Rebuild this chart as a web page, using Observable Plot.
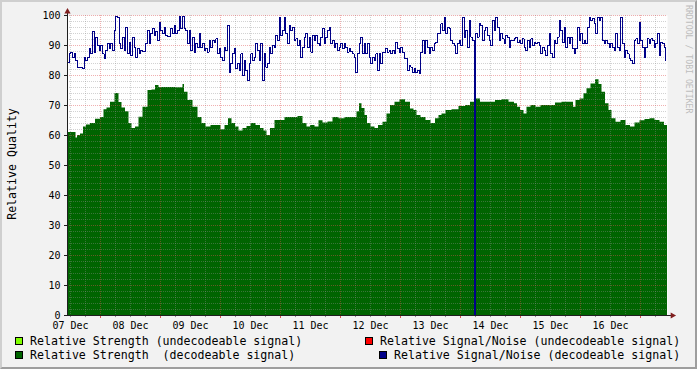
<!DOCTYPE html>
<html><head><meta charset="utf-8">
<script src="https://cdn.jsdelivr.net/npm/d3@7"></script>
<script src="https://cdn.jsdelivr.net/npm/@observablehq/plot@0.6"></script>
<style>
body{margin:0;background:#fff}
#chart{position:relative;width:697px;height:369px;background:#F2F2F2;overflow:hidden;font-family:"DejaVu Sans Mono",monospace;color:#000}
#chart svg{position:absolute;left:0;top:0}
#shade{position:absolute;left:0;top:0;width:697px;height:369px;box-sizing:border-box;border-top:2px solid #CFCFCF;border-left:2px solid #CFCFCF;border-right:2px solid #9E9E9E;border-bottom:2px solid #9E9E9E;pointer-events:none}
.lg{position:absolute;font-size:11.6px;line-height:13px;white-space:pre}
.sw{position:absolute;width:6px;height:6px;border:1px solid #000}
#ytitle{position:absolute;left:12px;top:164px;transform:translate(-50%,-50%) rotate(-90deg);font-size:11.6px;white-space:nowrap}
#wm{position:absolute;left:684px;top:5px;writing-mode:vertical-rl;font-size:8.2px;color:#bdbdbd;white-space:nowrap}
</style>
</head><body>
<div id="chart"></div>
<script>
// ---- data ----
const xLabels = ["07 Dec","08 Dec","09 Dec","10 Dec","11 Dec","12 Dec","13 Dec","14 Dec","15 Dec","16 Dec"];
const yTicks = [0,10,20,30,40,50,60,70,80,90,100];

// Relative Strength (decodeable), hours since start / value
const strengthHours = [0,3.2,3.6,4.4,6,6.8,8.4,10,12.4,14,15.2,16.4,18,20,21.2,22.4,24,25.2,26.4,28,29.2,31.2,33.2,34.4,36,37.2,41.2,46,46.4,47.2,49.2,51.2,53.2,54.4,56.4,58.4,60.4,62.4,63.6,65.2,66.4,68,69.2,71.2,72.4,74.4,76.4,78,79.2,80.4,82,84,86,88,91.2,93.2,95.2,96.4,98,100,101.2,103.2,105.2,107.2,110,112,115.2,116.4,117.2,118.4,119.6,120.4,122.4,123.6,125.2,127.2,128.4,130,132,134,136.4,138,139.2,140.4,142.4,144.4,146.4,148,149.2,150.4,152.4,155.2,158,160.4,162,164.4,166,170,172.4,175.2,178,179.6,180.4,182,183.2,184.4,186.4,188.4,190.4,194,196.4,199.2,202,202.8,204,206,207.2,208.4,210.4,212,213.2,214.4,216,217.2,218.4,220.4,222.4,224.4,226,228,230,232,234,236,238,239.6,240];
const strengthValues = [61,61,59.2,60,60.5,62.8,63.5,64,65.4,66,68.6,69.2,71.1,74,71,69.2,67.9,64,62.3,62.8,66.1,69.4,75,75.2,76.7,76,76,75.9,77,74.4,71.7,69.4,66,64,62.8,63.3,63.3,61.9,63.3,65.6,64,62.8,61.5,62.3,63,64,63.3,62.3,61.5,60,62.3,65,65,66,66,66.3,64,62.8,63.3,62.8,64.9,64.2,64.5,66,65.6,66,66,67.9,70.6,69,66.7,64,62.8,62.3,63.3,64.4,67.2,70,71.1,71.9,71.1,68.8,68.3,66.7,66,65,64,65.6,66.7,67.2,68.3,68.6,69.7,70,71.1,72.2,71.1,71.1,71.7,71.9,71.1,70.6,69.4,68.3,67.2,69.4,70,69.4,70,70,70.8,71.1,71.1,69.4,71.7,72.2,73.9,75.6,77.2,78.6,77,74.4,70.6,68.3,65.6,64.4,65,63.3,62.8,64.2,64.9,65.3,65.6,65,64.4,63.3,63.3];

// Relative Signal/Noise (decodeable), one sample every 40 minutes
const snrStepHours = 2/3;
const snrValues = [
84.4,87.2,87.8,86.1,87.2,85,82.8,82.8,82.6,82.2,86.1,85,86.1,88.9,87.2,94.8,87.8,92.8,90,88.3,90,87.2,85.6,88.3,90.6,88.9,90.6,88.3,95,99.7,99.4,90.6,88.9,92.8,88.3,96.1,87.2,91.1,86.7,92.8,89.4,86.1,88.9,87.2,88.3,88.1,88.1,90.6,95,90.6,93.9,95.6,93.3,94.8,91.7,97.8,95,93.9,96.1,93.3,93,93,95.6,93.9,96.7,93.9,95,99.7,95.6,99.7,95.6,95,90.6,95,88.3,92.8,87.8,90.6,89.4,93.9,89.4,90.6,88.3,88.9,87.8,91.7,89.4,91.7,91.1,
92.2,87.2,88.9,86.1,85,89.4,88.3,96.7,81.1,83.9,87.2,88.9,82.2,83.9,81.7,87.2,80,85,81.7,78.3,83.9,87.2,85,86.1,90.6,88.3,85,90.6,78.3,87.2,82.8,83.9,89.4,87.2,90,89.4,93.3,91.7,99.4,93.3,95,99.4,93.9,90.6,96.7,95,96.1,91.7,92.2,90,91.7,86.1,89.4,92.8,93.9,89.4,92.8,87.8,93.3,91.7,93.3,90.6,90,92.8,95.6,90.6,92.8,95,96.1,90.6,91.7,89.4,90.6,88.3,89.5,90.6,88.9,90.6,89.4,87.8,88.9,88,87.2,86.1,81.1,87.2,90.6,92.8,87.2,90.6,
87.2,90.6,86.1,83.9,86.1,85,87.2,81.7,87.2,83.9,87.8,87.8,88.9,87.8,88.3,87.2,88.3,87.2,91.1,88.9,87.8,89.4,87.8,85.6,85.6,81.7,83.3,82.8,81.1,82.2,81.1,81.7,80.6,87.8,91.7,87.2,91.7,89.4,87.2,89.4,88.3,90.6,91.1,93.9,93.9,97.2,95,99.4,93.9,96.1,95.6,91.7,90.6,90,87.2,90.6,91.7,90,99.4,92.8,95,89.4,98.3,92.8,91.7,0,93.9,92.8,97.2,96.7,91.7,95,96.1,93.3,91.7,90,98.3,95,99.4,96.1,91.7,93.9,92.2,90.6,93.3,92.8,89.4,91.7,91.7,92.2,
92.8,91.1,91.7,90.6,92.2,89.4,88.3,91.7,89.4,92.2,90,91.1,90.6,91.1,90,87.2,89.4,88.3,86.7,90,93.9,87.2,86.1,91.7,90.6,92.8,98.3,95,91.1,96.1,89.4,92.8,90.6,92.8,88.9,87.2,88.9,96.1,91.7,93.9,90.6,91.7,90.6,96.1,99.4,98.3,98.9,97.2,93.9,99.4,98.3,99.4,91.7,90.6,91.7,90.6,89.4,90.6,89.4,88.3,93.9,89.4,88.3,99.4,90.6,86.1,88.3,87.2,85.6,85,83.9,91.7,92.2,90.6,97.8,91.7,89.4,86.1,89.4,92.2,90.6,92.2,91.7,89.4,90.6,93.9,86.7,91.1,90.6,89.4,85
];

// ---- derived tables ----
const strength = strengthHours.map((h, i) => ({h, v: strengthValues[i]}));
const snr = snrValues.map((v, i) => ({h: i * snrStepHours, v}));
const hoursTotal = xLabels.length * 24;
const labelHours = xLabels.map((_, i) => 1.2 + i * 24);
const majorHours = xLabels.map((_, i) => 13.2 + i * 24);
const minorHours = d3.range(1.2, hoursTotal, 6).filter(h => !majorHours.some(m => Math.abs(m - h) < 1e-6));
const yMajor = yTicks.filter(v => v > 0);
const yMinor = d3.range(2, 100, 2).filter(v => v % 10 !== 0);

const gridMinor = {stroke: "#8f8f8f", strokeOpacity: 0.4, strokeDasharray: "1,1"};
const gridMajor = {stroke: "#de4f4f", strokeOpacity: 0.45, strokeDasharray: "1,1"};

const plot = Plot.plot({
  width: 697, height: 334,
  marginLeft: 67, marginRight: 30, marginTop: 15, marginBottom: 19,
  x: {domain: [0, hoursTotal]},
  y: {domain: [0, 100]},
  style: {background: "transparent", fontFamily: "DejaVu Sans Mono", fontSize: "10px", color: "#000", overflow: "visible"},
  marks: [
    Plot.frame({fill: "#fff", stroke: null}),
    Plot.areaY(strength, {x: "h", y: "v", fill: "#006400", curve: "step"}),
    Plot.ruleY(yMinor, gridMinor),
    Plot.ruleX(minorHours, gridMinor),
    Plot.ruleY(yMajor, gridMajor),
    Plot.ruleX(majorHours, gridMajor),
    Plot.line(snr, {x: "h", y: "v", stroke: "#000088", strokeWidth: 1, curve: "step-after", shapeRendering: "crispEdges"}),
    // tick marks below the x axis
    Plot.ruleX(minorHours, {y1: 0, y2: -0.7, stroke: "#8f8f8f"}),
    Plot.ruleX(majorHours, {y1: 0, y2: -1, stroke: "#de4f4f"}),
    // axis lines
    Plot.ruleY([0], {x1: 0, x2: hoursTotal + 2, stroke: "#1f1f1f"}),
    Plot.ruleX([0], {y1: 0, y2: 101.5, stroke: "#1f1f1f"}),
    Plot.dot([0], {x: 0, y: 101.3, symbol: "triangle", r: 2.3, fill: "#801f1f", stroke: null}),
    Plot.dot([0], {x: hoursTotal + 2, y: 0, symbol: "triangle", rotate: 90, r: 2.3, fill: "#801f1f", stroke: null}),
    Plot.axisY({ticks: yTicks, tickSize: 3, tickPadding: 4, label: null, fontSize: 10, stroke: "#1f1f1f"}),
    Plot.axisX({ticks: labelHours, tickSize: 0, tickPadding: 6, label: null, fontSize: 10,
      tickFormat: d => xLabels[labelHours.findIndex(h => Math.abs(h - d) < 1e-6)]})
  ]
});

const chart = document.getElementById("chart");
chart.appendChild(plot);

const legendItems = [
  {text: "Relative Strength (undecodeable signal)", color: "#80FF00", sx: 15, tx: 30, row: 0},
  {text: "Relative Strength  (decodeable signal)", color: "#006400", sx: 15, tx: 30, row: 1},
  {text: "Relative Signal/Noise (undecodeable signal)", color: "#FF0000", sx: 365, tx: 380, row: 0},
  {text: "Relative Signal/Noise (decodeable signal)", color: "#000088", sx: 379, tx: 394, row: 1}
];
for (const it of legendItems) {
  const sw = document.createElement("div");
  sw.className = "sw";
  sw.style.left = it.sx + "px";
  sw.style.top = (337 + it.row * 13.5) + "px";
  sw.style.background = it.color;
  chart.appendChild(sw);
  const t = document.createElement("div");
  t.className = "lg";
  t.style.left = it.tx + "px";
  t.style.top = (335 + it.row * 13.5) + "px";
  t.textContent = it.text;
  chart.appendChild(t);
}
const yt = document.createElement("div");
yt.id = "ytitle"; yt.textContent = "Relative Quality";
chart.appendChild(yt);
const wm = document.createElement("div");
wm.id = "wm"; wm.textContent = "RRDTOOL / TOBI OETIKER";
chart.appendChild(wm);
const sh = document.createElement("div");
sh.id = "shade";
chart.appendChild(sh);
</script>
</body></html>
